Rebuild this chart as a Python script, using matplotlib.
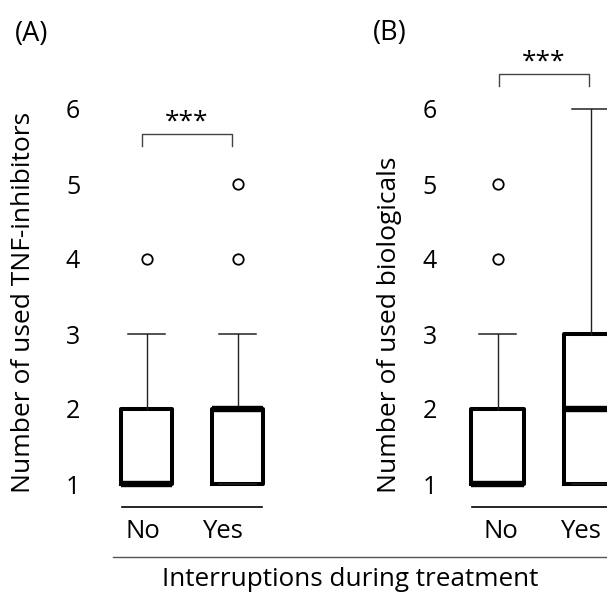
import numpy as np
import matplotlib.pyplot as plt

plt.rcParams['font.family'] = ['Open Sans', 'DejaVu Sans']

# Dati
groups = ['No', 'Yes']
# pannello A: TNF-inhibitors
a_q1 = [1, 1]
a_med = [1, 2]
a_q3 = [2, 2]
a_lo = [1, 1]
a_hi = [3, 3]
a_fliers = [[4], [4, 5]]
# pannello B: biologicals
b_q1 = [1, 1]
b_med = [1, 2]
b_q3 = [2, 3]
b_lo = [1, 1]
b_hi = [3, 6]
b_fliers = [[4, 5], []]

yticks = [1, 2, 3, 4, 5, 6]

W, H = 607, 596
fig = plt.figure(figsize=(W / 100, H / 100), dpi=100)


def fx(px):
    return px / W


def fy(py):
    return 1 - py / H


# y: valore 0 -> 559 px, valore 7 -> 34 px
bottom, height = fy(559), (559 - 34) / H


def make_stats(q1, med, q3, lo, hi, fl):
    return [dict(q1=q1[i], med=med[i], q3=q3[i], whislo=lo[i], whishi=hi[i],
                 fliers=fl[i], label=groups[i]) for i in range(len(groups))]


def draw_panel(ax, stats, tick_pad):
    ax.set_xlim(0.5, 2.5)
    ax.set_ylim(0, 7)
    for s in ax.spines.values():
        s.set_visible(False)
    ax.bxp(stats, positions=[1, 2], widths=0.56, capwidths=0.4,
           boxprops=dict(color='black', linewidth=2.9),
           medianprops=dict(color='black', linewidth=4.6, solid_capstyle='butt'),
           whiskerprops=dict(color='#222222', linewidth=1.0),
           capprops=dict(color='#222222', linewidth=1.1),
           flierprops=dict(marker='o', markersize=7.5, markerfacecolor='white',
                           markeredgecolor='black', markeredgewidth=1.3),
           manage_ticks=False)
    ax.set_xticks([])
    ax.set_yticks(yticks)
    ax.tick_params(axis='y', length=0, pad=tick_pad, labelsize=18)
    for art in ax.get_children():
        try:
            art.set_clip_on(False)
        except AttributeError:
            pass


# Pannello A
axA = fig.add_axes([fx(101), bottom, (283 - 101) / W, height])
draw_panel(axA, make_stats(a_q1, a_med, a_q3, a_lo, a_hi, a_fliers), 15)
axA.plot([0.73, 2.27], [0.69, 0.69], color='black', lw=1.2, clip_on=False)
for x, g in zip([0.96, 1.83], groups):
    axA.text(x, 0.28, g, ha='center', va='baseline', fontsize=18.5)
axA.plot([0.95, 0.95, 1.94, 1.94], [5.51, 5.67, 5.67, 5.51], color='#444444', lw=1.0, clip_on=False)
axA.text(1.445, 5.74, '***', ha='center', va='baseline', fontsize=19)

# Pannello B
axB = fig.add_axes([fx(451), bottom, (637 - 451) / W, height])
draw_panel(axB, make_stats(b_q1, b_med, b_q3, b_lo, b_hi, b_fliers), 10)
axB.plot([0.73, 2.3], [0.69, 0.69], color='black', lw=1.2, clip_on=False)
for x, g in zip([1.04, 1.89], groups):
    axB.text(x, 0.28, g, ha='center', va='baseline', fontsize=18.5)
axB.plot([1.02, 1.02, 1.98, 1.98], [6.31, 6.47, 6.47, 6.31], color='#444444', lw=1.0, clip_on=False)
axB.text(1.5, 6.54, '***', ha='center', va='baseline', fontsize=19)

# Etichette
fig.text(fx(24), fy(493), 'Number of used TNF-inhibitors', rotation=90,
         ha='center', va='bottom', fontsize=19)
fig.text(fx(389), fy(493), 'Number of used biologicals', rotation=90,
         ha='center', va='bottom', fontsize=19)
fig.text(fx(32), fy(34), '(A)', ha='center', va='center', fontsize=19.5)
fig.text(fx(390), fy(33), '(B)', ha='center', va='center', fontsize=19.5)

# Linea e titolo asse x comune
fig.add_artist(plt.Line2D([fx(113), fx(607)], [fy(557), fy(557)], color='#555555', lw=1.0))
fig.text(fx(350), fy(580), 'Interruptions during treatment', ha='center', va='center', fontsize=18.8)

plt.savefig('out.png', dpi=100)
